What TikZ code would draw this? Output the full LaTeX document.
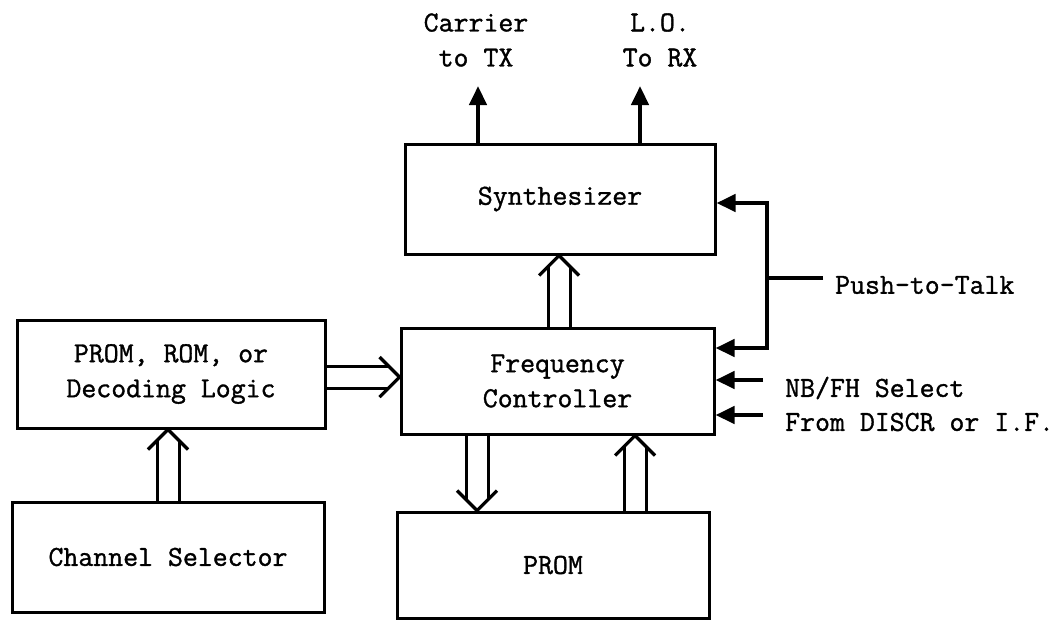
\documentclass[tikz,border=0pt]{standalone}
\usepackage{fontspec}
\usetikzlibrary{arrows.meta,calc}
\newfontfamily\twfont{Latin Modern Mono}[FakeBold=1.2]
\newcommand\lbl{\fontsize{29}{35}\selectfont\twfont}
\begin{document}
\begin{tikzpicture}[x=1pt,y=-1pt,
  box/.style={draw,line width=3pt,inner sep=0pt,font=\lbl,align=center},
  txt/.style={font=\lbl,align=center,inner sep=0pt},
  sig/.style={line width=4.5pt,-{Triangle[length=19pt,width=17pt]}},
  sigline/.style={line width=4.5pt},
  bus/.style={line width=3pt},
  vhead/.style={line width=3.2pt,line join=miter}]
\useasboundingbox[fill=white] (0,0) rectangle (1059,624);

% boxes
\node[box,minimum width=310pt,minimum height=110pt] (synth) at (560,199) {Synthesizer};
\node[box,minimum width=313pt,minimum height=106pt] (freq) at (557.5,381) {Frequency\\Controller};
\node[box,minimum width=308pt,minimum height=108pt] (logic) at (171,374) {PROM, ROM, or\\Decoding Logic};
\node[box,minimum width=312pt,minimum height=110pt] (chan) at (168,557) {Channel Selector};
\node[box,minimum width=312pt,minimum height=106pt] (prom) at (553,565) {PROM};

% top labels
\node[txt] (carrier) at (476,40) {Carrier\\to TX};
\node[txt] (lo) at (660,40) {L.O.\\To RX};
\draw[sig] (synth.north -| 478,0) -- (478,86);
\draw[sig] (synth.north -| 640,0) -- (640,86);

% right side inputs
\node[txt,anchor=west] (ptt) at (835,285) {Push-to-Talk};
\node[txt,anchor=west] (nbfh) at (785,388) {NB/FH Select};
\node[txt,anchor=west] (discr) at (785,422) {From DISCR or I.F.};
\coordinate (j) at (767,278);
\draw[sigline] ($(ptt.west)+(-12,-7)$) -- (j);
\draw[sig,line join=miter] ($(j)+(0,2)$) |- (synth.east |- 0,203);
\draw[sig,line join=miter] ($(j)+(0,-2)$) |- (freq.east |- 0,348);
\draw[sig] ($(nbfh.west)+(-22,-8)$) -- (freq.east |- 0,380);
\draw[sig] ($(discr.west)+(-22,-7)$) -- (freq.east |- 0,415);

% double (bus) arrows
% logic -> freq
\coordinate (t1) at (freq.west |- 0,377);
\draw[bus] (logic.east |- 0,366) -- ($(t1)+(-11,-11)$);
\draw[bus] (logic.east |- 0,388) -- ($(t1)+(-11,11)$);
\draw[vhead] ($(t1)+(-20,-20)$) -- (t1) -- ($(t1)+(-20,20)$);
% freq -> synth
\coordinate (t2) at (synth.south -| 559,0);
\draw[bus] (freq.north -| 548,0) -- ($(t2)+(-11,11)$);
\draw[bus] (freq.north -| 570,0) -- ($(t2)+(11,11)$);
\draw[vhead] ($(t2)+(-20,20)$) -- (t2) -- ($(t2)+(20,20)$);
% chan -> logic
\coordinate (t3) at (logic.south -| 168,0);
\draw[bus] (chan.north -| 157,0) -- ($(t3)+(-11,11)$);
\draw[bus] (chan.north -| 179,0) -- ($(t3)+(11,11)$);
\draw[vhead] ($(t3)+(-20,20)$) -- (t3) -- ($(t3)+(20,20)$);
% freq -> prom (down)
\coordinate (t4) at (prom.north -| 477,0);
\draw[bus] (freq.south -| 466,0) -- ($(t4)+(-11,-11)$);
\draw[bus] (freq.south -| 488,0) -- ($(t4)+(11,-11)$);
\draw[vhead] ($(t4)+(-20,-20)$) -- (t4) -- ($(t4)+(20,-20)$);
% prom -> freq (up)
\coordinate (t5) at (freq.south -| 635,0);
\draw[bus] (prom.north -| 624,0) -- ($(t5)+(-11,11)$);
\draw[bus] (prom.north -| 646,0) -- ($(t5)+(11,11)$);
\draw[vhead] ($(t5)+(-20,20)$) -- (t5) -- ($(t5)+(20,20)$);
\end{tikzpicture}
\end{document}
